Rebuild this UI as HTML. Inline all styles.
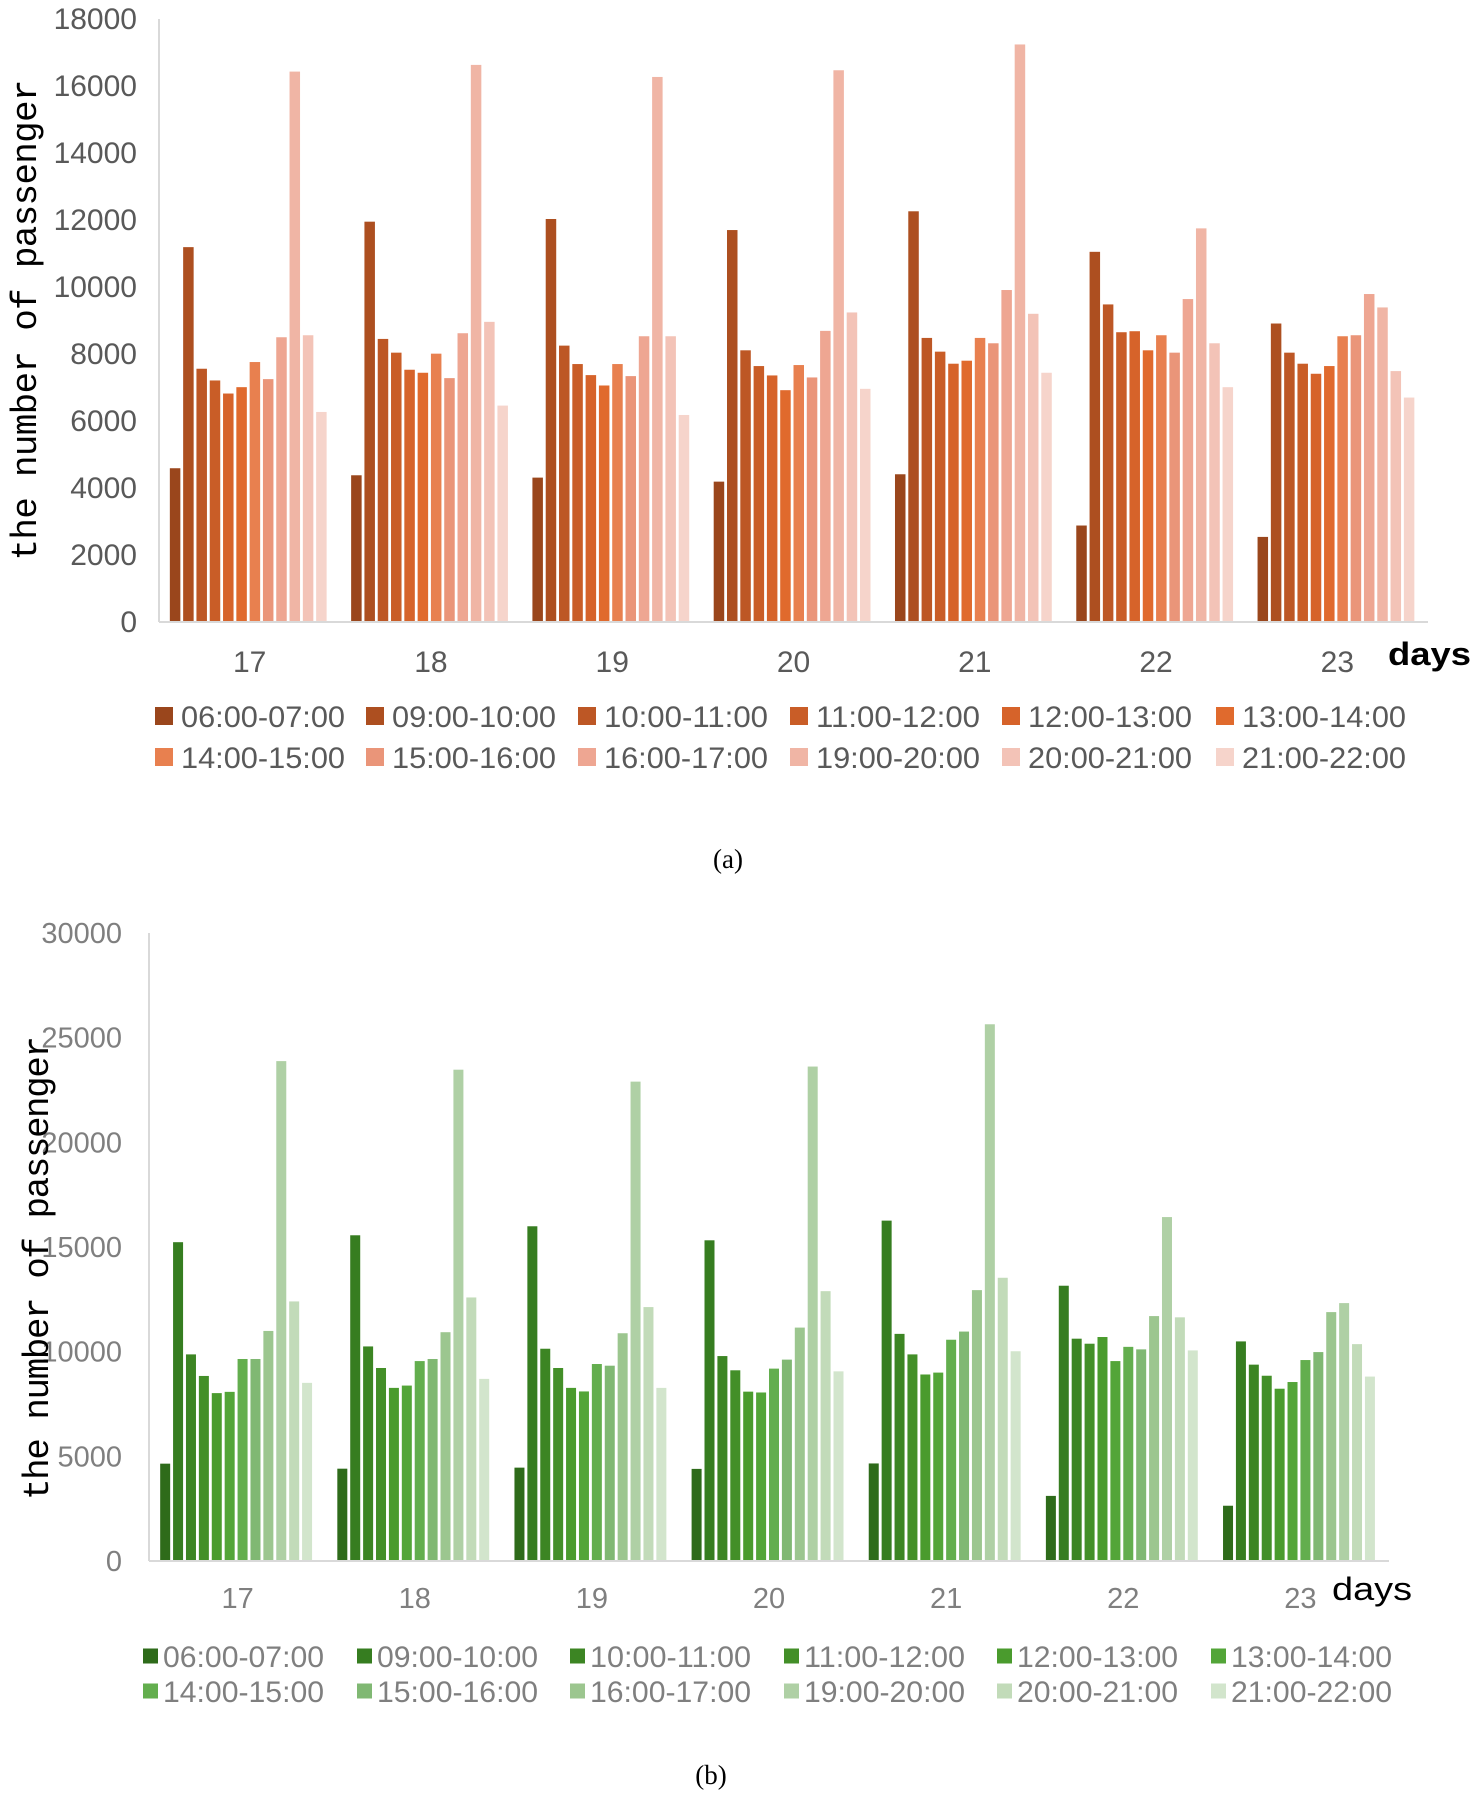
<!DOCTYPE html>
<html><head><meta charset="utf-8"><style>
html,body{margin:0;padding:0;background:#fff;}
svg{display:block;}
</style></head>
<body>
<svg id="fig" width="1477" height="1796" viewBox="0 0 1477 1796" xmlns="http://www.w3.org/2000/svg">
<g id="chartA"></g>
<g id="chartB"></g>
<text x="728" y="868" font-family="Liberation Serif, serif" font-size="27" text-anchor="middle" fill="#000">(a)</text>
<text x="711" y="1784" font-family="Liberation Serif, serif" font-size="27" text-anchor="middle" fill="#000">(b)</text>
</svg>
<script>
const days = ["17","18","19","20","21","22","23"];
const hours = ["06:00-07:00","09:00-10:00","10:00-11:00","11:00-12:00","12:00-13:00","13:00-14:00","14:00-15:00","15:00-16:00","16:00-17:00","19:00-20:00","20:00-21:00","21:00-22:00"];
const ticksA = [0,2000,4000,6000,8000,10000,12000,14000,16000,18000];
const ticksB = [0,5000,10000,15000,20000,25000,30000];
const valuesA17 = [4590,11190,7560,7210,6820,7010,7760,7250,8500,16430,8560,6270];
const valuesA18 = [4380,11950,8450,8040,7530,7440,8010,7280,8620,16630,8960,6460];
const valuesA19 = [4310,12030,8250,7700,7370,7060,7700,7340,8530,16270,8530,6180];
const valuesA20 = [4190,11700,8110,7640,7360,6920,7670,7300,8690,16470,9240,6960];
const valuesA21 = [4410,12260,8480,8070,7710,7800,8480,8320,9910,17240,9200,7440];
const valuesA22 = [2880,11050,9480,8650,8680,8110,8560,8040,9640,11750,8320,7010];
const valuesA23 = [2540,8910,8040,7710,7410,7640,8530,8560,9790,9390,7490,6700];
const valuesB17 = [4650,15230,9870,8840,8020,8080,9650,9650,10990,23880,12400,8510];
const valuesB18 = [4410,15560,10250,9220,8270,8380,9550,9650,10930,23470,12590,8700];
const valuesB19 = [4460,15990,10140,9220,8270,8100,9410,9330,10880,22900,12130,8270];
const valuesB20 = [4400,15320,9790,9110,8090,8050,9190,9620,11150,23620,12890,9060];
const valuesB21 = [4660,16260,10850,9870,8910,9000,10570,10960,12940,25640,13530,10020];
const valuesB22 = [3110,13150,10620,10380,10700,9550,10230,10110,11700,16430,11640,10060];
const valuesB23 = [2640,10490,9380,8850,8230,8550,9600,9980,11890,12320,10360,8810];
const colorsA = ["#9a461c","#ad4f20","#bd5725","#c95d27","#d6632a","#e06a2d","#e8804f","#ea9579","#eea692","#f0b5a5","#f3c3b7","#f6d4cb"];
const colorsB = ["#2e6b1a","#367d20","#3c8523","#438f28","#4a9b2d","#53a538","#63ae4e","#80b873","#9cc68f","#afd0a5","#c2dbb9","#d2e5cc"];

const NS="http://www.w3.org/2000/svg";
function mk(parent, tag, attrs){const e=document.createElementNS(NS,tag);for(const k in attrs)e.setAttribute(k,attrs[k]);parent.appendChild(e);return e;}

function drawChart(g, cfg){
  const yScale = v => cfg.y0 - (v/cfg.max)*(cfg.y0-cfg.yTop);
  const band = (cfg.x1-cfg.x0)/days.length;
  let ax = mk(g,'line',{x1:cfg.x0,y1:cfg.yTop,x2:cfg.x0,y2:cfg.y0,stroke:'#d9d9d9','stroke-width':2});
   
  cfg.ticks.forEach(t=>{
    const tx=mk(g,'text',{x:cfg.tickX,y:yScale(t)+10,'text-anchor':'end','font-family':'Liberation Sans, sans-serif','font-size':cfg.tickFont,fill:cfg.tickColor});
    tx.textContent=t;
    
    
  });
  cfg.series.forEach((vals,di)=>{
    const bx = cfg.x0 + di*band + (band - 12*cfg.pitch)/2;
    vals.forEach((v,hi)=>{
      const r=mk(g,'rect',{x:bx+hi*cfg.pitch,y:yScale(v),width:cfg.barW,height:cfg.y0-yScale(v),fill:cfg.colors[hi]});
      
      
    });
    const lab=mk(g,'text',{x:cfg.x0+di*band+band/2,y:cfg.xLabY,'text-anchor':'middle','font-family':'Liberation Sans, sans-serif','font-size':cfg.tickFont,fill:cfg.tickColor});
    lab.textContent=days[di];
    
    
  });
  let bx = mk(g,'line',{x1:cfg.x0,y1:cfg.y0,x2:cfg.x1,y2:cfg.y0,stroke:'#d9d9d9','stroke-width':2});
   
  const yt=mk(g,'text',{x:0,y:0,transform:`translate(${cfg.titleX},${cfg.titleCY}) rotate(-90)`,'text-anchor':'middle','font-family':'Liberation Mono, monospace','font-size':36,fill:'#000',textLength:cfg.titleLen,lengthAdjust:'spacing'});
  yt.textContent='the number of passenger';
  
  
  const xt=mk(g,'text',{x:cfg.daysX,y:cfg.daysY,'font-family':'Liberation Sans, sans-serif','font-size':32,'font-weight':cfg.daysWeight,fill:'#000',textLength:cfg.daysLen,lengthAdjust:'spacingAndGlyphs'});
  xt.textContent='days';
  
  
  hours.forEach((h,i)=>{
    const col=i%6,row=Math.floor(i/6);
    const lx=cfg.legX[col], ly=cfg.legY[row];
    const sq=mk(g,'rect',{x:lx,y:ly-cfg.sq/2,width:cfg.sq,height:cfg.sq,fill:cfg.colors[i]});
    
    
    const t=mk(g,'text',{x:lx+cfg.sq+cfg.legGap,y:ly+cfg.legFont*0.36,'font-family':'Liberation Sans, sans-serif','font-size':cfg.legFont,fill:cfg.tickColor,textLength:cfg.legLen,lengthAdjust:'spacingAndGlyphs'});
    t.textContent=h;
    
    
  });
}

drawChart(document.getElementById('chartA'),{
  x0:159,x1:1428,y0:622,yTop:19,max:18000,ticks:ticksA,tickX:137,tickFont:30,tickColor:'#595959',
  series:[valuesA17,valuesA18,valuesA19,valuesA20,valuesA21,valuesA22,valuesA23],colors:colorsA,
  pitch:13.3,barW:10.5,xLabY:672,titleX:36,titleCY:320,titleLen:481,
  daysX:1388,daysY:665,daysLen:83,daysWeight:'bold',
  legX:[155,366,578,790,1002,1216],legY:[716,757],sq:18,legGap:8,legFont:30,legLen:164
});
drawChart(document.getElementById('chartB'),{
  x0:149,x1:1389,y0:1561,yTop:933,max:30000,ticks:ticksB,tickX:122,tickFont:29,tickColor:'#7f7f7f',
  series:[valuesB17,valuesB18,valuesB19,valuesB20,valuesB21,valuesB22,valuesB23],colors:colorsB,
  pitch:12.9,barW:10,xLabY:1608,titleX:48,titleCY:1268,titleLen:464,
  daysX:1332,daysY:1600,daysLen:80,daysWeight:'normal',
  legX:[143,357,570,784,997,1211],legY:[1656,1691],sq:15,legGap:5,legFont:30,legLen:161
});
</script>
</body></html>
